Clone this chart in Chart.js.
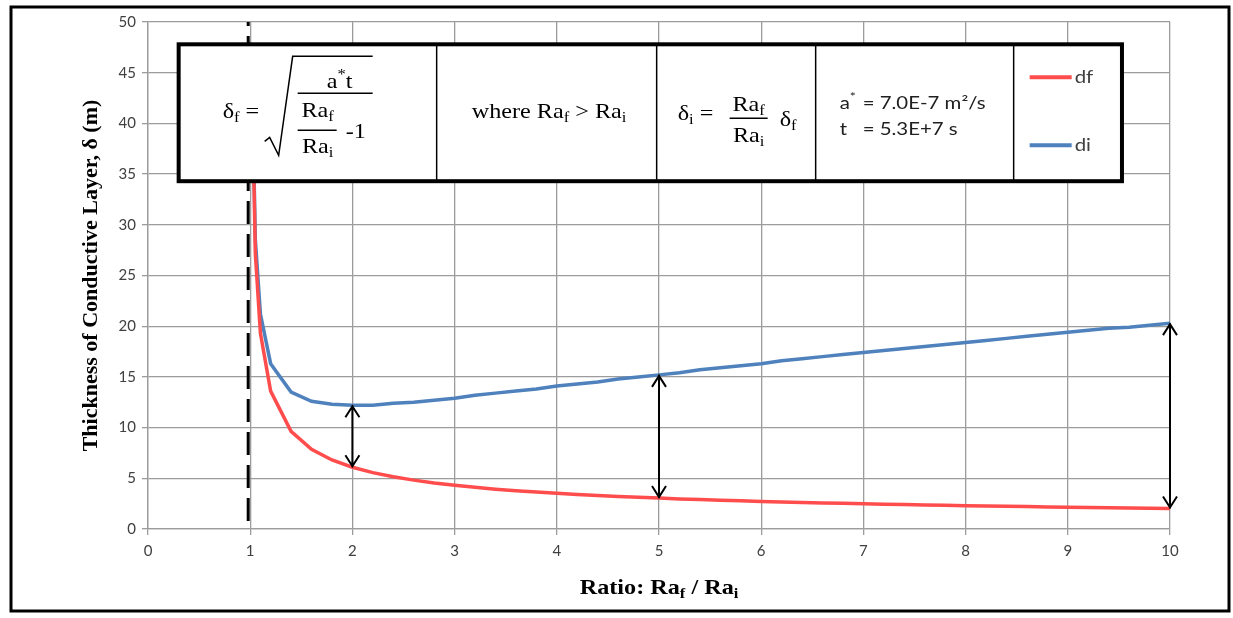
<!DOCTYPE html>
<html>
<head>
<meta charset="utf-8">
<script src="https://cdn.jsdelivr.net/npm/chart.js@4.4.1/dist/chart.umd.min.js"></script>
<style>
  html, body { margin: 0; padding: 0; background: #fff; }
</style>
</head>
<body>
<canvas id="chart" width="1233" height="618"></canvas>
<script>
// ratio Ra_f / Ra_i
const RATIO = [1.02, 1.05, 1.1, 1.2, 1.4, 1.6, 1.8, 2.0, 2.2, 2.4, 2.6, 2.8, 3.0, 3.2, 3.4, 3.6, 3.8,
  4.0, 4.2, 4.4, 4.6, 4.8, 5.0, 5.2, 5.4, 5.6, 5.8, 6.0, 6.2, 6.4, 6.6, 6.8, 7.0, 7.2, 7.4, 7.6, 7.8,
  8.0, 8.2, 8.4, 8.6, 8.8, 9.0, 9.2, 9.4, 9.6, 9.8, 10.0];
// df (m)
const DF = [43.1, 27.2, 19.3, 13.6, 9.63, 7.86, 6.81, 6.09, 5.56, 5.15, 4.82, 4.54, 4.31, 4.11, 3.93, 3.78, 3.64,
  3.52, 3.40, 3.30, 3.21, 3.12, 3.05, 2.97, 2.90, 2.84, 2.78, 2.72, 2.67, 2.62, 2.57, 2.53, 2.49, 2.45, 2.41, 2.37, 2.34,
  2.30, 2.27, 2.24, 2.21, 2.18, 2.15, 2.13, 2.10, 2.08, 2.05, 2.03];
// di (m)
const DI = [44.0, 28.6, 21.2, 16.3, 13.5, 12.6, 12.3, 12.2, 12.2, 12.4, 12.5, 12.7, 12.9, 13.2, 13.4, 13.6, 13.8,
  14.1, 14.3, 14.5, 14.8, 15.0, 15.2, 15.4, 15.7, 15.9, 16.1, 16.3, 16.6, 16.8, 17.0, 17.2, 17.4, 17.6, 17.8, 18.0, 18.2,
  18.4, 18.6, 18.8, 19.0, 19.2, 19.4, 19.6, 19.8, 19.9, 20.1, 20.3];
const ARROW_AT = [2, 5, 10];
const CRITICAL_RATIO = 1;
const A_STAR = "7.0E-7";
const T_VAL = "5.3E+7";

const SERIF = '"Liberation Serif", "Times New Roman", serif';
const SANS = 'Lato, "Open Sans", sans-serif';
const RED = "#ff4d4d";
const BLUE = "#4f81bd";
const GRID = "#9c9c9c";

// writes text pieces (normal / sub / sup) one after another, returns end x
function rich(ctx, x, y, parts, size, opts = {}) {
  const family = opts.family || SERIF;
  const hs = opts.hs || 1.1;
  for (const [t, kind] of parts) {
    const s = kind === "n" ? size : Math.round(size * 0.68);
    const dy = kind === "sub" ? size * 0.28 : kind === "sup" ? -size * 0.35 : 0;
    ctx.font = `${opts.weight || ""} ${s}px ${family}`;
    if (!opts.measureOnly) {
      ctx.save();
      ctx.translate(x, y + dy);
      ctx.scale(hs, 1);
      ctx.fillText(t, 0, 0);
      ctx.restore();
    }
    x += ctx.measureText(t).width * hs;
  }
  return x;
}
function richCentered(ctx, cx, y, parts, size, opts = {}) {
  const w = rich(ctx, 0, y, parts, size, { ...opts, measureOnly: true });
  rich(ctx, cx - w / 2, y, parts, size, opts);
}

function arrow(ctx, x, yLow, yHigh) {
  ctx.beginPath();
  ctx.moveTo(x, yLow);
  ctx.lineTo(x, yHigh);
  ctx.moveTo(x - 7, yHigh + 12);
  ctx.lineTo(x, yHigh + 1);
  ctx.lineTo(x + 7, yHigh + 12);
  ctx.moveTo(x - 7, yLow - 12);
  ctx.lineTo(x, yLow - 1);
  ctx.lineTo(x + 7, yLow - 12);
  ctx.stroke();
}

const overlay = {
  id: "overlay",
  beforeDatasetsDraw(chart) {
    const { ctx, scales: { x, y } } = chart;
    ctx.save();
    ctx.strokeStyle = "#000";
    ctx.lineWidth = 3;
    ctx.setLineDash([23, 10]);
    const px = x.getPixelForValue(CRITICAL_RATIO) - 2;
    ctx.beginPath();
    ctx.moveTo(px, y.getPixelForValue(0) - 8);
    ctx.lineTo(px, y.getPixelForValue(50));
    ctx.stroke();
    ctx.restore();
  },
  afterDatasetsDraw(chart) {
    const { ctx, scales: { x, y }, chartArea } = chart;
    ctx.save();

    // double arrows between the two curves
    ctx.strokeStyle = "#000";
    ctx.lineWidth = 2;
    ARROW_AT.forEach((r) => {
      const i = RATIO.indexOf(r);
      arrow(ctx, x.getPixelForValue(r), y.getPixelForValue(DF[i]), y.getPixelForValue(DI[i]));
    });

    // formula box
    const L = x.getPixelForValue(0.3), R = x.getPixelForValue(9.53);
    const T = y.getPixelForValue(47.8), B = y.getPixelForValue(34.3);
    ctx.fillStyle = "#fff";
    ctx.fillRect(L, T, R - L, B - T);
    ctx.lineWidth = 1.5;
    [258, 478, 637, 835].forEach((dx) => {
      ctx.beginPath();
      ctx.moveTo(L + dx, T);
      ctx.lineTo(L + dx, B);
      ctx.stroke();
    });
    ctx.lineWidth = 4;
    ctx.strokeRect(L, T, R - L, B - T);

    ctx.fillStyle = "#000";
    ctx.textBaseline = "middle";
    ctx.textAlign = "left";
    const fs = 22;
    // cell 1: df = sqrt( a*t / (Raf/Rai - 1) )
    rich(ctx, L + 44, T + 68, [["δ", "n"], ["f", "sub"], [" =", "n"]], fs);
    ctx.lineWidth = 1.5;
    ctx.beginPath();
    ctx.moveTo(L + 86, T + 97);
    ctx.lineTo(L + 91, T + 93);
    ctx.lineTo(L + 100, T + 111);
    ctx.lineTo(L + 114, T + 12);
    ctx.lineTo(L + 194, T + 12);
    ctx.stroke();
    richCentered(ctx, L + 161, T + 38, [["a", "n"], ["*", "sup"], ["t", "n"]], fs);
    ctx.beginPath();
    ctx.moveTo(L + 119, T + 49);
    ctx.lineTo(L + 194, T + 49);
    ctx.moveTo(L + 119, T + 86);
    ctx.lineTo(L + 158, T + 86);
    ctx.stroke();
    richCentered(ctx, L + 139, T + 67, [["Ra", "n"], ["f", "sub"]], fs);
    richCentered(ctx, L + 139, T + 103, [["Ra", "n"], ["i", "sub"]], fs);
    rich(ctx, L + 167, T + 88, [["-1", "n"]], fs);

    // cell 2
    rich(ctx, L + 293, T + 68, [["where Ra", "n"], ["f", "sub"], [" > Ra", "n"], ["i", "sub"]], fs);

    // cell 3: di = Raf/Rai df
    rich(ctx, L + 499, T + 70, [["δ", "n"], ["i", "sub"], [" =", "n"]], fs);
    richCentered(ctx, L + 570, T + 61, [["Ra", "n"], ["f", "sub"]], fs);
    ctx.beginPath();
    ctx.moveTo(L + 551, T + 74);
    ctx.lineTo(L + 589, T + 74);
    ctx.stroke();
    richCentered(ctx, L + 570, T + 92, [["Ra", "n"], ["i", "sub"]], fs);
    rich(ctx, L + 601, T + 76, [["δ", "n"], ["f", "sub"]], fs);

    // cell 4: constants
    const sans = { family: SANS, hs: 1.2 };
    ctx.fillStyle = "#202020";
    rich(ctx, L + 661, T + 59, [["a", "n"], ["*", "sup"]], 17, sans);
    rich(ctx, L + 684, T + 59, [[`= ${A_STAR} m²/s`, "n"]], 17, sans);
    rich(ctx, L + 661, T + 85, [["t", "n"]], 17, sans);
    rich(ctx, L + 684, T + 85, [[`= ${T_VAL} s`, "n"]], 17, sans);

    // cell 5: legend
    chart.data.datasets.forEach((ds, k) => {
      const ly = T + (k === 0 ? 33 : 101);
      ctx.strokeStyle = ds.borderColor;
      ctx.lineWidth = 4;
      ctx.beginPath();
      ctx.moveTo(L + 851, ly);
      ctx.lineTo(L + 893, ly);
      ctx.stroke();
      ctx.fillStyle = "#404040";
      rich(ctx, L + 896, ly, [[ds.label, "n"]], 17, sans);
    });

    // x axis title with subscripts
    ctx.fillStyle = "#000";
    richCentered(ctx, (chartArea.left + chartArea.right) / 2, 588,
      [["Ratio: Ra", "n"], ["f", "sub"], [" / Ra", "n"], ["i", "sub"]], 22, { weight: "bold", hs: 1.1 });
    ctx.restore();
  },
  afterDraw(chart) {
    const { ctx } = chart;
    ctx.save();
    ctx.strokeStyle = "#000";
    ctx.lineWidth = 3;
    ctx.strokeRect(11, 7, 1218, 604);
    ctx.restore();
  },
};

const ctx = document.getElementById("chart").getContext("2d");
new Chart(ctx, {
  type: "scatter",
  data: {
    datasets: [
      {
        label: "df",
        data: RATIO.map((r, i) => ({ x: r, y: DF[i] })),
        borderColor: RED,
        borderWidth: 3.5,
        showLine: true,
        pointRadius: 0,
      },
      {
        label: "di",
        data: RATIO.map((r, i) => ({ x: r, y: DI[i] })),
        borderColor: BLUE,
        borderWidth: 3.5,
        showLine: true,
        pointRadius: 0,
      },
    ],
  },
  options: {
    responsive: false,
    animation: false,
    layout: { padding: { left: 74, right: 63, top: 22, bottom: 10 } },
    plugins: { legend: { display: false }, tooltip: { enabled: false } },
    scales: {
      x: {
        type: "linear",
        min: 0,
        max: 10,
        ticks: { stepSize: 1, color: "#404040", font: { family: SANS, size: 15 }, padding: 7 },
        grid: { color: GRID, lineWidth: 1.3, tickLength: 6 },
        border: { color: GRID, width: 1.3 },
        afterFit: (s) => { s.height = 79; },
      },
      y: {
        min: 0,
        max: 50,
        ticks: { stepSize: 5, color: "#404040", font: { family: SANS, size: 15 }, padding: 6 },
        grid: { color: GRID, lineWidth: 1.3, tickLength: 6 },
        border: { color: GRID, width: 1.3 },
        title: {
          display: true,
          text: "Thickness of Conductive Layer, δ (m)",
          color: "#000",
          font: { family: SERIF, size: 22, weight: "bold" },
        },
        afterFit: (s) => { s.width = 74; },
      },
    },
  },
  plugins: [overlay],
});
</script>
</body>
</html>
